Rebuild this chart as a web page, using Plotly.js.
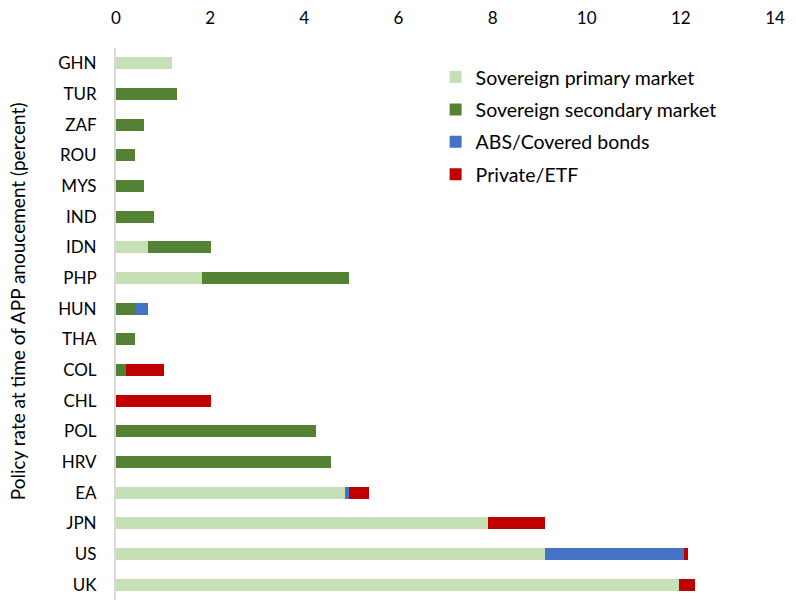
<!DOCTYPE html>
<html>
<head>
<meta charset="utf-8">
<script src="https://cdn.plot.ly/plotly-3.0.1.min.js"></script>
<style>html,body{margin:0;padding:0;background:#fff;}#chart{width:796px;height:600px;}</style>
</head>
<body>
<div id="chart"></div>
<script>
const countries = ["GHN","TUR","ZAF","ROU","MYS","IND","IDN","PHP","HUN","THA","COL","CHL","POL","HRV","EA","JPN","US","UK"];
const sovPrimary   = [1.20,0,0,0,0,0,0.69,1.83,0,0,0,0,0,0,4.87,7.90,9.12,11.97];
const sovSecondary = [0,1.30,0.60,0.40,0.60,0.80,1.33,3.13,0.40,0.40,0.21,0,4.24,4.57,0,0,0,0];
const absCovered   = [0,0,0,0,0,0,0,0,0.29,0,0,0,0,0,0.09,0,2.94,0];
const privateEtf   = [0,0,0,0,0,0,0,0,0,0,0.80,2.02,0,0,0.41,1.22,0.10,0.32];
const seriesNames  = ["Sovereign primary market","Sovereign secondary market","ABS/Covered bonds","Private/ETF"];
const seriesColors = ["#c5e0b4","#548235","#4472c4","#c00000"];
const seriesData   = [sovPrimary, sovSecondary, absCovered, privateEtf];
const yTitle = "Policy rate at time of APP anoucement (percent)";

const traces = seriesData.map((vals, i) => ({
  type: "bar",
  orientation: "h",
  name: seriesNames[i],
  legendgroup: "g" + i,
  x: vals,
  y: countries,
  marker: {color: seriesColors[i], line: {width: 0}},
  width: 0.4,
  hoverinfo: "x+y+name"
}));

const layout = {
  width: 796, height: 600,
  margin: {l: 116, r: 21, t: 48, b: 0},
  paper_bgcolor: "#fff", plot_bgcolor: "#fff",
  barmode: "stack",
  font: {family: "Lato, 'Open Sans', sans-serif", size: 16, color: "#000"},
  xaxis: {
    side: "top", range: [0, 14], dtick: 2, tick0: 0,
    showgrid: false, zeroline: false, showline: false,
    ticks: "", tickfont: {size: 17}, ticklabelstandoff: 20
  },
  yaxis: {
    type: "category", categoryorder: "array", categoryarray: countries,
    autorange: "reversed",
    showline: true, linecolor: "#d9d9d9", linewidth: 2,
    showgrid: false, zeroline: false, ticks: "",
    tickfont: {size: 17}, ticklabelstandoff: 14
  },
  annotations: [{
    text: yTitle, textangle: -90, showarrow: false,
    xref: "paper", yref: "paper", x: -0.150, y: 0.5416,
    xanchor: "center", yanchor: "middle",
    font: {size: 19}
  }],
  legend: {
    x: 0.485, y: 0.982, xanchor: "left", yanchor: "top",
    traceorder: "grouped", tracegroupgap: 4,
    font: {size: 19.5}, itemwidth: 30, bgcolor: "rgba(0,0,0,0)"
  },
  showlegend: true
};

Plotly.newPlot("chart", traces, layout, {displayModeBar: false, staticPlot: true});
</script>
</body>
</html>
